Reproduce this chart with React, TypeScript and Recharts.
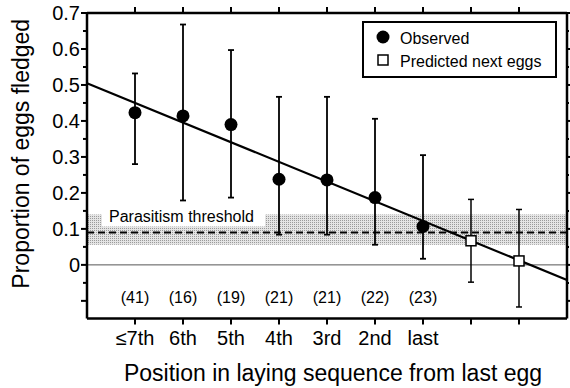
import React from 'react';
import { ComposedChart, Scatter, XAxis, YAxis, ErrorBar, ReferenceArea, ReferenceLine } from 'recharts';

// observed fledging proportions, by position before the last egg
const POSITIONS = [1, 2, 3, 4, 5, 6, 7];
const X_LABELS = ['≤7th', '6th', '5th', '4th', '3rd', '2nd', 'last'];
const OBS_MEAN = [0.423, 0.414, 0.39, 0.238, 0.236, 0.187, 0.107];
const OBS_HIGH = [0.532, 0.668, 0.597, 0.467, 0.467, 0.406, 0.305];
const OBS_LOW = [0.28, 0.179, 0.187, 0.084, 0.084, 0.056, 0.017];
const SAMPLE_SIZES = [41, 16, 19, 21, 21, 22, 23];

// predicted values for the next eggs
const PRED_POSITIONS = [8, 9];
const PRED_MEAN = [0.067, 0.011];
const PRED_HIGH = [0.182, 0.154];
const PRED_LOW = [-0.048, -0.117];

// fitted regression line
const FIT_X = [0, 10];
const FIT_Y = [0.505, -0.042];

const THRESHOLD = 0.09;
const THRESHOLD_LOW = 0.056;
const THRESHOLD_HIGH = 0.14;
const COUNT_ROW_Y = -0.09;

const X_DOMAIN = [0, 10];
const X_TICKS = [1, 2, 3, 4, 5, 6, 7, 8, 9];
const Y_TICKS = [-0.1, -0.05, 0, 0.05, 0.1, 0.15, 0.2, 0.25, 0.3, 0.35, 0.4, 0.45, 0.5, 0.55, 0.6, 0.65, 0.7];
const Y_DOMAIN = [-0.149, 0.7];

const FONT = '"Liberation Sans", Arial, Helvetica, sans-serif';

const observed = POSITIONS.map((x, i) => ({
  x,
  y: OBS_MEAN[i],
  err: [OBS_MEAN[i] - OBS_LOW[i], OBS_HIGH[i] - OBS_MEAN[i]],
}));
const predicted = PRED_POSITIONS.map((x, i) => ({
  x,
  y: PRED_MEAN[i],
  err: [PRED_MEAN[i] - PRED_LOW[i], PRED_HIGH[i] - PRED_MEAN[i]],
}));
const fit = FIT_X.map((x, i) => ({ x, y: FIT_Y[i] }));
const counts = POSITIONS.map((x, i) => ({ x, y: COUNT_ROW_Y, n: SAMPLE_SIZES[i] }));

const isMajor = (v: number) => Math.abs(v * 10 - Math.round(v * 10)) < 1e-6;

// tick marks are drawn by hand so they show on every side
const LeftTick = (props: any) => {
  const { x, y, payload } = props;
  const v = Math.round(payload.value * 100) / 100;
  const major = isMajor(v);
  return (
    <g>
      <line x1={x + (major ? 1 : 3)} x2={x + 7} y1={y} y2={y} stroke="#000" strokeWidth={2} />
      {major && v >= 0 && (
        <text x={x} y={y} dy="0.36em" textAnchor="end" fontSize={20} fontFamily={FONT} fill="#000">
          {v === 0 ? '0' : v.toFixed(1)}
        </text>
      )}
    </g>
  );
};

const RightTick = (props: any) => {
  const { x, y, payload } = props;
  const major = isMajor(Math.round(payload.value * 100) / 100);
  return <line x1={x - 4} x2={x - (major ? 0 : 2)} y1={y} y2={y} stroke="#000" strokeWidth={2} />;
};

const BottomTick = (props: any) => {
  const { x, y, payload } = props;
  const label = X_LABELS[payload.value - 1] ?? '';
  return (
    <g>
      <line x1={x} x2={x} y1={y - 12} y2={y - 6} stroke="#000" strokeWidth={2} />
      <text x={x} y={y} dy="0.72em" textAnchor="middle" fontSize={20} fontFamily={FONT} fill="#000">
        {label}
      </text>
    </g>
  );
};

const TopTick = (props: any) => {
  const { x, y } = props;
  return <line x1={x} x2={x} y1={y - 1} y2={y + 5} stroke="#000" strokeWidth={2} />;
};

const yTitle = (props: any) => {
  const vb = props.viewBox;
  const cx = vb.x + 29;
  const cy = vb.y + vb.height / 2 - 12;
  return (
    <text x={cx} y={cy} transform={`rotate(-90, ${cx}, ${cy})`} textAnchor="middle" fontSize={23} fontFamily={FONT} fill="#000">
      Proportion of eggs fledged
    </text>
  );
};

const xTitle = (props: any) => {
  const vb = props.viewBox;
  return (
    <text x={vb.x + vb.width / 2 + 6} y={vb.y + 62} textAnchor="middle" fontSize={23} fontFamily={FONT} fill="#000">
      Position in laying sequence from last egg
    </text>
  );
};

const thresholdLabel = (props: any) => {
  const vb = props.viewBox;
  return (
    <g>
      <rect x={vb.x + 15} y={vb.y - 8} width={163} height={20} fill="#fff" />
      <text x={vb.x + 22} y={vb.y + 7} fontSize={16} fontFamily={FONT} fill="#000">
        Parasitism threshold
      </text>
    </g>
  );
};

const Dot = (p: any) => <circle cx={p.cx} cy={p.cy} r={6.5} fill="#000" />;
const Square = (p: any) => <rect x={p.cx - 5} y={p.cy - 5} width={10} height={10} fill="#fff" stroke="#000" strokeWidth={1.5} />;
const CountText = (p: any) => (
  <text x={p.cx} y={p.cy} dy="0.35em" textAnchor="middle" fontSize={16} fontFamily={FONT} fill="#000">
    ({p.payload.n})
  </text>
);

// plot frame
const frame = { stroke: '#000', strokeWidth: 2.5, ifOverflow: 'visible' as const };

export default function App() {
  return (
    <div style={{ position: 'absolute', left: 0, top: 0, width: 570, height: 388, background: '#fff' }}>
      <ComposedChart width={570} height={388} margin={{ top: 12, right: 1, bottom: 0, left: 0 }}>
        <defs>
          <pattern id="stipple" width={2} height={2} patternUnits="userSpaceOnUse">
            <rect width={2} height={2} fill="#e4e4e4" />
            <rect width={1} height={1} fill="#9a9a9a" />
          </pattern>
        </defs>
        <XAxis
          dataKey="x"
          type="number"
          domain={X_DOMAIN}
          ticks={X_TICKS}
          interval={0}
          height={69.5}
          tickSize={5}
          tickMargin={7}
          axisLine={false}
          tickLine={false}
          tick={<BottomTick />}
          label={xTitle}
        />
        <XAxis
          xAxisId="top"
          dataKey="x"
          orientation="top"
          type="number"
          domain={X_DOMAIN}
          ticks={X_TICKS}
          interval={0}
          height={1}
          tickSize={5}
          tickMargin={0}
          axisLine={false}
          tickLine={false}
          tick={<TopTick />}
        />
        <YAxis
          type="number"
          domain={Y_DOMAIN}
          ticks={Y_TICKS}
          interval={0}
          width={87}
          tickSize={5}
          tickMargin={2}
          tickLine={false}
          axisLine={false}
          tick={<LeftTick />}
          label={yTitle}
        />
        <YAxis
          yAxisId="right"
          orientation="right"
          type="number"
          domain={Y_DOMAIN}
          ticks={Y_TICKS}
          interval={0}
          width={2}
          tickSize={4}
          tickMargin={0}
          axisLine={false}
          tickLine={false}
          tick={<RightTick />}
        />
        <ReferenceArea y1={THRESHOLD_LOW} y2={THRESHOLD_HIGH} fill="url(#stipple)" fillOpacity={1} stroke="none" label={thresholdLabel} />
        <ReferenceLine y={0} stroke="#555" strokeWidth={1} />
        <ReferenceLine y={THRESHOLD} stroke="#000" strokeWidth={2} strokeDasharray="7 4" />
        <ReferenceLine x={X_DOMAIN[0]} {...frame} />
        <ReferenceLine x={X_DOMAIN[1]} {...frame} />
        <ReferenceLine y={Y_DOMAIN[0]} {...frame} />
        <ReferenceLine y={Y_DOMAIN[1]} {...frame} />
        <Scatter data={fit} dataKey="y" xAxisId="top" yAxisId="right" shape={() => null} isAnimationActive={false} />
        <Scatter data={fit} dataKey="y" line={{ stroke: '#000', strokeWidth: 2.2 }} shape={() => null} isAnimationActive={false} />
        <Scatter data={observed} dataKey="y" shape={Dot} isAnimationActive={false}>
          <ErrorBar dataKey="err" direction="y" width={3} stroke="#000" strokeWidth={1.8} isAnimationActive={false} />
        </Scatter>
        <Scatter data={predicted} dataKey="y" shape={Square} isAnimationActive={false}>
          <ErrorBar dataKey="err" direction="y" width={3} stroke="#000" strokeWidth={1.5} isAnimationActive={false} />
        </Scatter>
        <Scatter data={counts} dataKey="y" shape={CountText} isAnimationActive={false} />
      </ComposedChart>
      <div style={{ position: 'absolute', left: 362, top: 21, width: 195, height: 57 }}>
        <svg width={195} height={57}>
          <rect x={1} y={1} width={193} height={55} fill="#fff" stroke="#000" strokeWidth={2} />
          <circle cx={21} cy={16} r={6.5} fill="#000" />
          <text x={38} y={23} fontSize={16} fontFamily={FONT} fill="#000">Observed</text>
          <rect x={16} y={34} width={10} height={10} fill="#fff" stroke="#000" strokeWidth={1.5} />
          <text x={38} y={46} fontSize={16} fontFamily={FONT} fill="#000">Predicted next eggs</text>
        </svg>
      </div>
    </div>
  );
}
